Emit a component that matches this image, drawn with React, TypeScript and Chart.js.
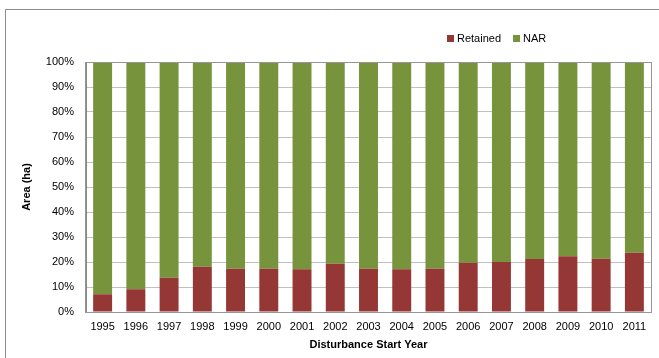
import React, { useEffect, useRef } from "react";
import { Chart, registerables } from "chart.js";

Chart.register(...registerables);

const years = ["1995", "1996", "1997", "1998", "1999", "2000", "2001", "2002", "2003", "2004", "2005", "2006", "2007", "2008", "2009", "2010", "2011"];
const retained = [7.1, 9.1, 13.7, 18.1, 17.3, 17.3, 17.1, 19.3, 17.3, 17.1, 17.3, 19.7, 20.0, 21.2, 22.3, 21.3, 23.7];
const nar = [92.9, 90.9, 86.3, 81.9, 82.7, 82.7, 82.9, 80.7, 82.7, 82.9, 82.7, 80.3, 80.0, 78.8, 77.7, 78.7, 76.3];
const seriesNames = ["Retained", "NAR"];
const seriesColors = ["#953735", "#77933C"];
const yTicks = [0, 10, 20, 30, 40, 50, 60, 70, 80, 90, 100];

const FONT = "'Liberation Sans', Arial, sans-serif";

const framePlugin = {
  id: "frame",
  beforeDraw(chart: any) {
    const ctx = chart.ctx;
    ctx.save();
    ctx.strokeStyle = "#8c8c8c";
    ctx.lineWidth = 1;
    ctx.beginPath();
    ctx.moveTo(5.5, chart.height);
    ctx.lineTo(5.5, 9.5);
    ctx.lineTo(chart.width, 9.5);
    ctx.stroke();
    ctx.restore();
  },
  afterDraw(chart: any) {
    const { left, top, right, bottom } = chart.chartArea;
    const ctx = chart.ctx;
    ctx.save();
    ctx.strokeStyle = "#969696";
    ctx.lineWidth = 1;
    ctx.strokeRect(Math.round(left) - 0.5, Math.round(top) + 0.5, Math.round(right - left) + 1, Math.round(bottom - top));
    ctx.restore();

    // legend
    ctx.save();
    ctx.font = `11px ${FONT}`;
    ctx.textBaseline = "middle";
    ctx.fillStyle = "#000";
    let x = 447;
    const cy = 38.5;
    chart.data.datasets.forEach((ds: any) => {
      ctx.fillStyle = ds.backgroundColor;
      ctx.fillRect(x, cy - 3.5, 7, 7);
      x += 10;
      ctx.fillStyle = "#000";
      ctx.fillText(ds.label, x, cy);
      x += ctx.measureText(ds.label).width + 12;
    });
    ctx.restore();
  },
};

export default function App() {
  const ref = useRef<HTMLCanvasElement>(null);
  useEffect(() => {
    if (!ref.current) return;
    const chart = new Chart(ref.current, {
      type: "bar",
      data: {
        labels: years,
        datasets: [
          { label: seriesNames[0], data: retained, backgroundColor: seriesColors[0], borderWidth: 0 },
          { label: seriesNames[1], data: nar, backgroundColor: seriesColors[1], borderWidth: 0 },
        ],
      },
      options: {
        responsive: false,
        animation: false,
        layout: { padding: { top: 62, right: 8, bottom: 0, left: 0 } },
        plugins: { legend: { display: false }, tooltip: { enabled: false } },
        datasets: { bar: { barPercentage: 0.57, categoryPercentage: 1 } },
        scales: {
          x: {
            stacked: true,
            grid: { display: false, drawTicks: false },
            border: { display: true, color: "#888888" },
            ticks: { font: { family: FONT, size: 11 }, color: "#000", padding: 8, maxRotation: 0 },
            title: { display: true, text: "Disturbance Start Year", font: { family: FONT, size: 11, weight: "bold" }, color: "#000", padding: { top: 0, bottom: 6 } },
            afterFit(scale: any) { scale.height = 46; },
          },
          y: {
            stacked: true,
            min: 0,
            max: 100,
            afterBuildTicks(scale: any) { scale.ticks = yTicks.map((v) => ({ value: v })); },
            grid: { color: "#c0c0c0", drawTicks: false },
            border: { display: true, color: "#888888" },
            ticks: { font: { family: FONT, size: 11 }, color: "#000", padding: 12, callback: (v: any) => v + "%" },
            title: { display: true, text: "Area (ha)", font: { family: FONT, size: 11, weight: "bold" }, color: "#000", padding: { top: 20, bottom: 0 } },
            afterFit(scale: any) { scale.width = 86; },
          },
        },
      },
      plugins: [framePlugin],
    });
    return () => chart.destroy();
  }, []);
  return (
    <div style={{ position: "absolute", left: 0, top: 0, width: 659, height: 358, background: "#fff" }}>
      <canvas ref={ref} width={659} height={358} />
    </div>
  );
}
